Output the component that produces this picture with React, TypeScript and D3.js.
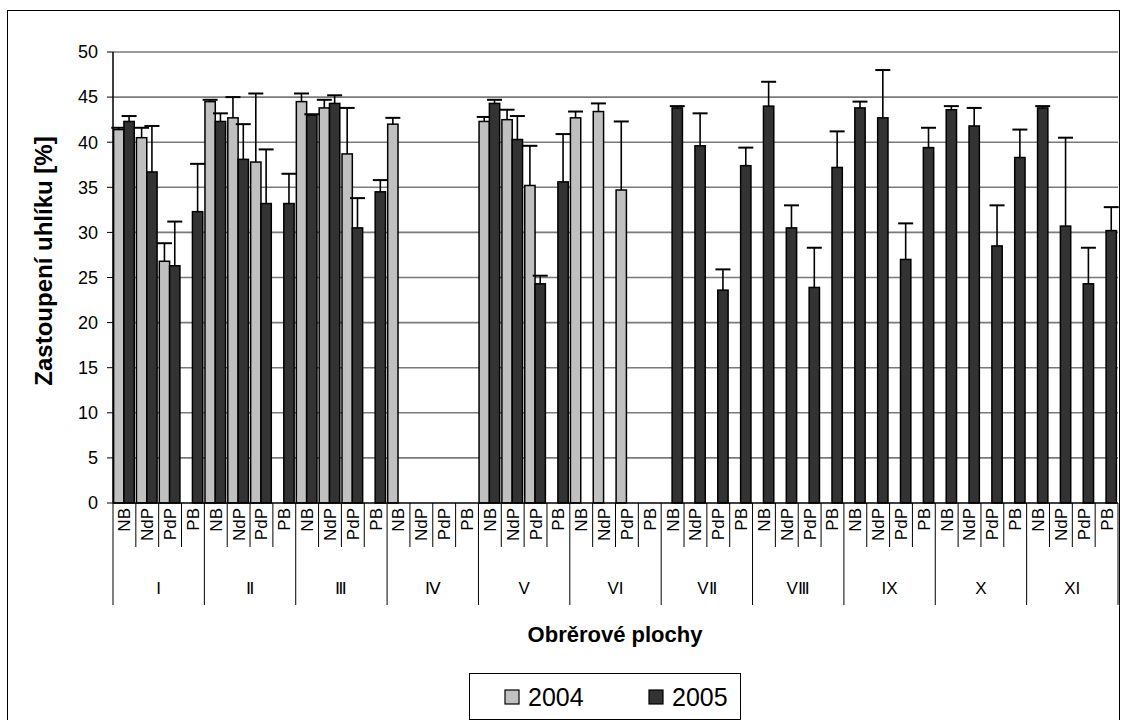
import * as d3 from 'd3';

const W = 1128;
const H = 720;
const PLOT = { left: 113, right: 1118, top: 52, bottom: 503 };

// kategorie
const groups = ['I', 'Ⅱ', 'Ⅲ', 'Ⅳ', 'V', 'VI', 'VⅡ', 'VⅢ', 'IX', 'X', 'XI'];
const sites = ['NB', 'NdP', 'PdP', 'PB'];
const years = ['2004', '2005'];
const yTicks = [0, 5, 10, 15, 20, 25, 30, 35, 40, 45, 50];

// hodnoty po skupinach (NB, NdP, PdP, PB)
const values2004 = [
  41.4, 40.5, 26.8, null,
  44.5, 42.7, 37.8, null,
  44.5, 43.8, 38.7, null,
  42.0, null, null, null,
  42.3, 42.5, 35.2, null,
  42.7, 43.4, 34.7, null,
  null, null, null, null,
  null, null, null, null,
  null, null, null, null,
  null, null, null, null,
  null, null, null, null,
];
const err2004 = [
  0.2, 1.1, 2.0, null,
  0.2, 2.3, 7.6, null,
  0.9, 0.9, 5.1, null,
  0.7, null, null, null,
  0.5, 1.1, 4.4, null,
  0.7, 0.9, 7.6, null,
  null, null, null, null,
  null, null, null, null,
  null, null, null, null,
  null, null, null, null,
  null, null, null, null,
];
const values2005 = [
  42.3, 36.7, 26.3, 32.3,
  42.3, 38.1, 33.2, 33.2,
  43.0, 44.3, 30.5, 34.5,
  null, null, null, null,
  44.3, 40.3, 24.3, 35.6,
  null, null, null, null,
  43.8, 39.6, 23.6, 37.4,
  44.0, 30.5, 23.9, 37.2,
  43.8, 42.7, 27.0, 39.4,
  43.6, 41.8, 28.5, 38.3,
  43.8, 30.7, 24.3, 30.2,
];
const err2005 = [
  0.6, 5.1, 4.9, 5.3,
  0.9, 3.9, 6.0, 3.3,
  0.1, 0.9, 3.3, 1.3,
  null, null, null, null,
  0.4, 2.6, 0.9, 5.3,
  null, null, null, null,
  0.2, 3.6, 2.3, 2.0,
  2.7, 2.5, 4.4, 4.0,
  0.7, 5.3, 4.0, 2.2,
  0.4, 2.0, 4.5, 3.1,
  0.2, 9.8, 4.0, 2.6,
];

const colors: Record<string, string> = { '2004': '#c0c0c0', '2005': '#333333' };
const FONT = '"Liberation Sans", Arial, sans-serif';

export default function App() {
  const cats = groups.flatMap((g) => sites.map((s) => `${g}|${s}`));
  const x0 = d3.scaleBand().domain(cats).range([PLOT.left, PLOT.right]);
  const cw = x0.bandwidth();
  const x1 = d3.scaleBand().domain(years).range([0.6, cw - 1.6]);
  const y = d3.scaleLinear().domain([0, 50]).range([PLOT.bottom, PLOT.top]);

  const series = [
    { year: '2004', vals: values2004, errs: err2004 },
    { year: '2005', vals: values2005, errs: err2005 },
  ];

  const groupW = cw * sites.length;

  return (
    <svg width={W} height={H} style={{ position: 'absolute', left: 0, top: 0, background: '#fff' }} fontFamily={FONT}>
      {/* rámeček */}
      <rect x={7.5} y={10.5} width={1112} height={720} fill="none" stroke="#000" strokeWidth={1} />

      {/* mřížka */}
      {yTicks.map((t) => (
        <g key={t}>
          {t > 0 && (
            <line x1={PLOT.left} x2={PLOT.right} y1={y(t)} y2={y(t)} stroke="#7a7a7a" strokeWidth={1.6} />
          )}
          <line x1={PLOT.left - 6} x2={PLOT.left} y1={y(t)} y2={y(t)} stroke="#000" strokeWidth={1} />
          <text x={98} y={y(t)} dy="0.35em" textAnchor="end" fontSize={18} fill="#000">{t}</text>
        </g>
      ))}

      {/* sloupce */}
      {series.map((s) =>
        cats.map((c, i) => {
          const v = s.vals[i];
          if (v == null) return null;
          const bx = x0(c)! + x1(s.year)!;
          const bw = x1.bandwidth();
          const e = s.errs[i] ?? 0;
          const cx = bx + bw / 2;
          return (
            <g key={`${s.year}-${c}`}>
              <rect x={bx} y={y(v)} width={bw} height={y(0) - y(v)} fill={colors[s.year]} stroke="#000" strokeWidth={1.5} />
              <line x1={cx} x2={cx} y1={y(v)} y2={y(v + e)} stroke="#000" strokeWidth={1.6} />
              <line x1={cx - 7.5} x2={cx + 7.5} y1={y(v + e)} y2={y(v + e)} stroke="#000" strokeWidth={2} />
            </g>
          );
        })
      )}

      {/* osy */}
      <line x1={PLOT.left} x2={PLOT.left} y1={PLOT.top} y2={PLOT.bottom} stroke="#000" strokeWidth={1.5} />
      <line x1={PLOT.left} x2={PLOT.right} y1={PLOT.bottom} y2={PLOT.bottom} stroke="#000" strokeWidth={1.5} />

      {/* popisky kategorií */}
      {cats.map((c, i) => (
        <line key={`t${c}`} x1={x0(c)!} x2={x0(c)!} y1={PLOT.bottom} y2={i % 4 === 0 ? 605 : 547} stroke="#000" strokeWidth={1} />
      ))}
      <line x1={PLOT.right} x2={PLOT.right} y1={PLOT.bottom} y2={605} stroke="#000" strokeWidth={1} />
      {cats.map((c) => {
        const cx = x0(c)! + cw / 2;
        return (
          <text key={`l${c}`} transform={`translate(${cx},${PLOT.bottom + 5}) rotate(-90)`} textAnchor="end" dy="0.35em" fontSize={17} fill="#000">
            {c.split('|')[1]}
          </text>
        );
      })}
      {groups.map((g, i) => (
        <text key={g} x={PLOT.left + groupW * i + groupW / 2} y={588} dy="0.35em" textAnchor="middle" fontSize={17} fill="#000">
          {g}
        </text>
      ))}

      {/* názvy os */}
      <text transform={`translate(44,261) rotate(-90)`} textAnchor="middle" dy="0.35em" fontSize={24} fontWeight="bold" fill="#000">
        Zastoupení uhlíku [%]
      </text>
      <text x={615} y={634} dy="0.35em" textAnchor="middle" fontSize={22} fontWeight="bold" fill="#000">
        Obrěrové plochy
      </text>

      {/* legenda */}
      <rect x={469.5} y={673.5} width={271} height={46} fill="#fff" stroke="#000" strokeWidth={1} />
      {years.map((yr, i) => (
        <g key={yr} transform={`translate(${505 + i * 144},0)`}>
          <rect x={0} y={690} width={14} height={14} fill={colors[yr]} stroke="#000" strokeWidth={1.2} />
          <text x={23} y={697} dy="0.35em" fontSize={25} fill="#000">{yr}</text>
        </g>
      ))}
    </svg>
  );
}
